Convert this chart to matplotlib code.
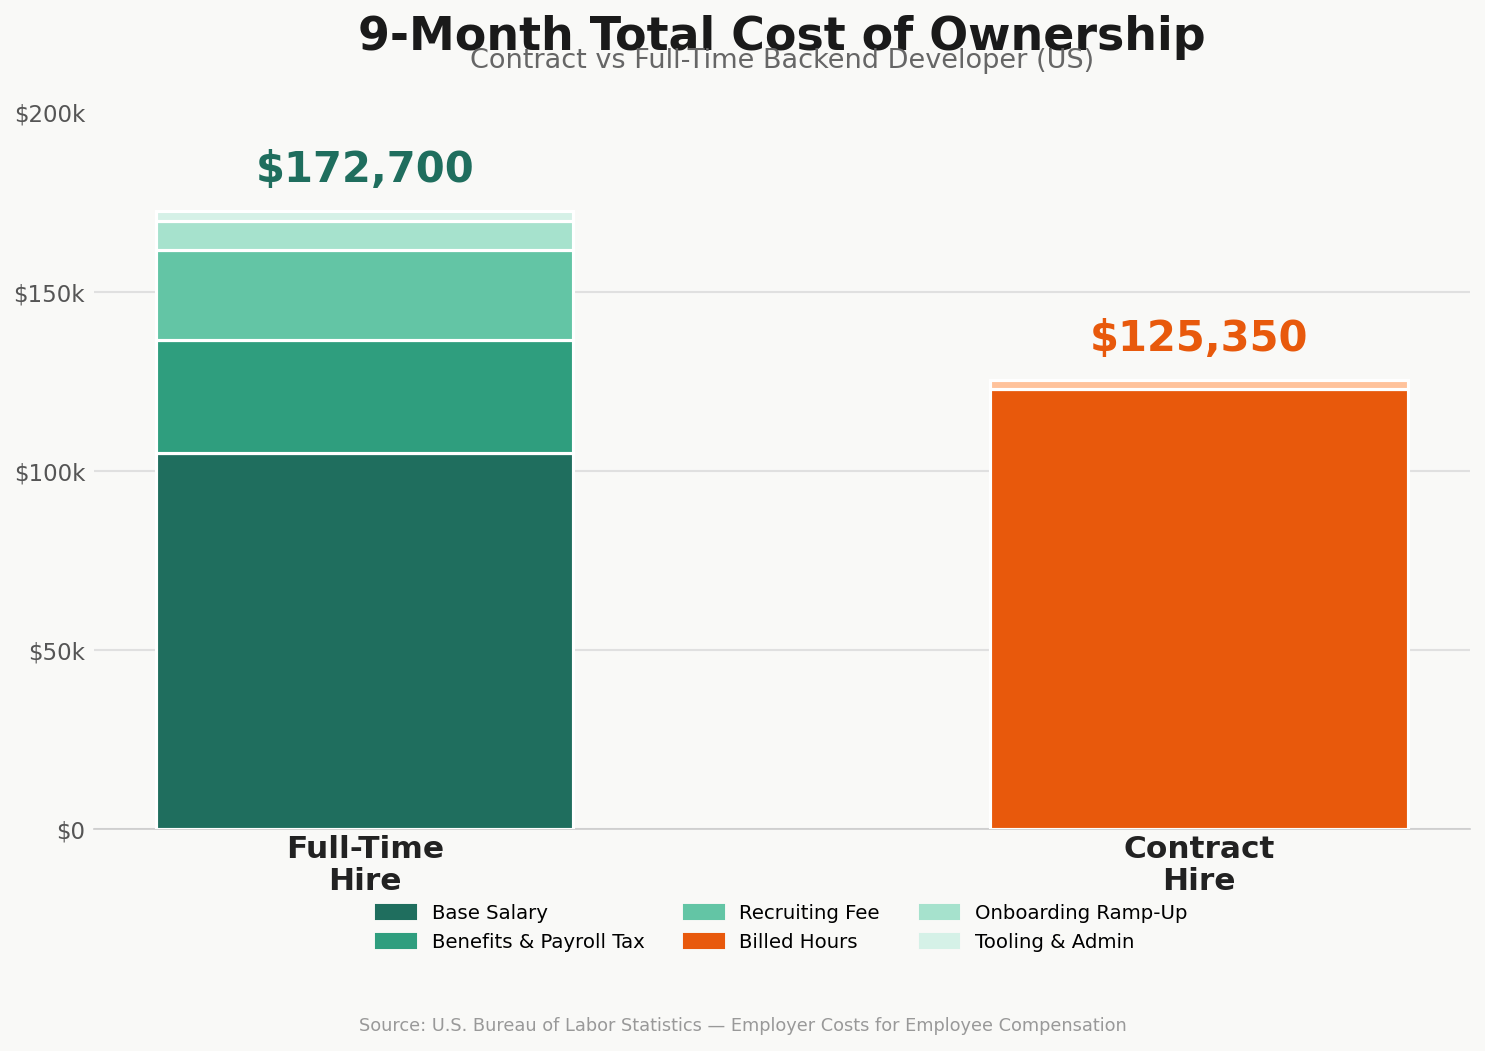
import matplotlib.pyplot as plt
from matplotlib.ticker import FuncFormatter

# data (USD, 9 months)
categories = ["Full-Time\nHire", "Contract\nHire"]
ft_labels = ["Base Salary", "Benefits & Payroll Tax", "Recruiting Fee",
             "Onboarding Ramp-Up", "Tooling & Admin"]
ft_values = [105000, 31500, 25200, 8000, 3000]
ft_colors = ["#1f6e5e", "#2f9e7e", "#63c5a5", "#a6e2cd", "#d5f1e7"]
ct_labels = ["Billed Hours", "_Agency Admin"]
ct_values = [122850, 2500]
ct_colors = ["#e8590c", "#ffc29b"]
y_ticks = [0, 50000, 100000, 150000, 200000]

bg = "#f9f9f7"
fig, ax = plt.subplots(figsize=(9.9, 7.0067), dpi=150)
fig.patch.set_facecolor(bg)
ax.set_facecolor(bg)
fig.subplots_adjust(left=0.063, right=0.99, bottom=0.211, top=0.8925)

colors = {}
bottom = 0
for lab, val, col in zip(ft_labels, ft_values, ft_colors):
    ax.bar(0, val, 0.5, bottom=bottom, color=col, edgecolor="white",
           linewidth=1.5, zorder=3)
    colors[lab] = col
    bottom += val
ft_total = bottom

bottom = 0
for lab, val, col in zip(ct_labels, ct_values, ct_colors):
    ax.bar(1, val, 0.5, bottom=bottom, color=col, edgecolor="white",
           linewidth=1.5, zorder=3)
    colors[lab] = col
    bottom += val
ct_total = bottom

ax.text(0, ft_total + 5600, f"${ft_total:,.0f}", ha="center", va="bottom",
        fontsize=20, fontweight="bold", color="#1f6e5e")
ax.text(1, ct_total + 5600, f"${ct_total:,.0f}", ha="center", va="bottom",
        fontsize=20, fontweight="bold", color="#e8590c")

ax.set_ylim(0, 200000)
ax.set_yticks(y_ticks)
ax.yaxis.set_major_formatter(FuncFormatter(lambda v, p: "$0" if v == 0 else f"${v/1000:.0f}k"))
ax.set_xticks([0, 1])
ax.set_xticklabels(categories, fontsize=15, fontweight="bold", color="#222222",
                   linespacing=1.1)
ax.tick_params(axis="y", length=0, labelsize=11, labelcolor="#555555", pad=4)
ax.tick_params(axis="x", length=0, pad=3)
ax.grid(axis="y", color="#e0e0e0", linewidth=1, zorder=0)
ax.get_ygridlines()[-1].set_visible(False)
ax.set_axisbelow(True)
for s in ["left", "right", "top"]:
    ax.spines[s].set_visible(False)
ax.spines["bottom"].set_color("#cccccc")

order = ["Base Salary", "Benefits & Payroll Tax", "Recruiting Fee",
         "Billed Hours", "Onboarding Ramp-Up", "Tooling & Admin"]
patches = [plt.Rectangle((0, 0), 1, 1, color=colors[k]) for k in order]
ax.legend(patches, order, loc="upper center",
          bbox_to_anchor=(0.5, -0.08), ncol=3, frameon=False, fontsize=9.5)

ax.text(0.5, 1.105, "9-Month Total Cost of Ownership", transform=ax.transAxes,
        ha="center", va="center", fontsize=22, fontweight="bold", color="#1a1a1a")
ax.text(0.5, 1.072, "Contract vs Full-Time Backend Developer (US)", transform=ax.transAxes,
        ha="center", va="center", fontsize=13, color="#666666")
fig.text(0.5, 0.024, "Source: U.S. Bureau of Labor Statistics \u2014 Employer Costs for Employee Compensation",
         ha="center", va="center", fontsize=8.5, color="#999999")

fig.savefig("out.png", dpi=150, facecolor=bg)
